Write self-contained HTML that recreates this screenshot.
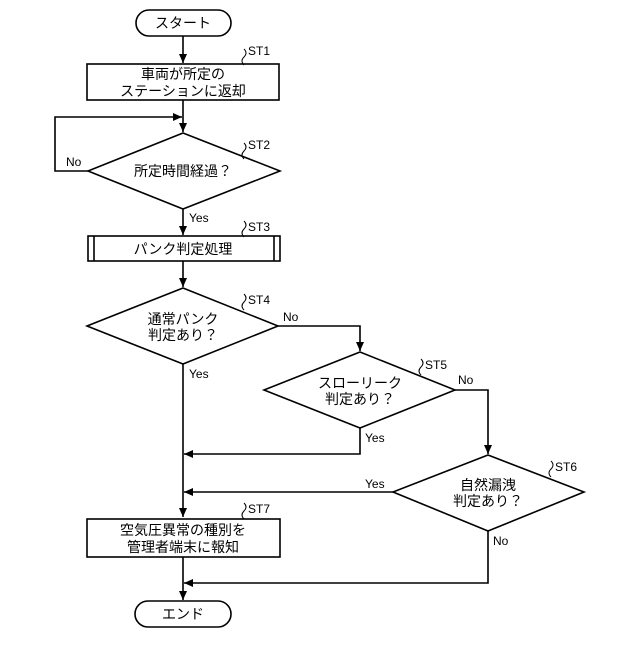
<!DOCTYPE html>
<html><head><meta charset="utf-8"><style>
html,body{margin:0;padding:0;background:#fff}
svg text{font-family:"Liberation Sans","Noto Sans CJK JP",sans-serif;fill:#000}
.t{font-size:14px;text-anchor:middle}
.l{font-size:12px}
</style></head><body>
<svg width="640" height="640" viewBox="0 0 640 640" xmlns="http://www.w3.org/2000/svg">
<defs><marker id="a" markerWidth="10" markerHeight="10" refX="9" refY="5" orient="auto" markerUnits="userSpaceOnUse"><path d="M0,1 L9,5 L0,9 z" fill="#000"/></marker></defs>
<g stroke="#000" stroke-width="1.6" fill="none">
<rect x="136" y="10" width="95" height="26" rx="13" fill="#fff"/>
<line x1="183" y1="36" x2="183" y2="63" marker-end="url(#a)"/>
<rect x="87" y="64" width="192" height="36" fill="#fff"/>
<line x1="183" y1="100" x2="183" y2="132" marker-end="url(#a)"/>
<polyline points="88,171 55,171 55,117 182,117" marker-end="url(#a)"/>
<polygon points="183,133 280,171 183,209 88,171" fill="#fff"/>
<line x1="183" y1="209" x2="183" y2="235" marker-end="url(#a)"/>
<rect x="88" y="236" width="192" height="25" fill="#fff"/>
<line x1="94" y1="236" x2="94" y2="261"/><line x1="274" y1="236" x2="274" y2="261"/>
<line x1="183" y1="261" x2="183" y2="287" marker-end="url(#a)"/>
<polygon points="183,288 278,326 183,364 87,326" fill="#fff"/>
<polyline points="278,326 360,326 360,351" marker-end="url(#a)"/>
<polygon points="360,352 455,390 360,428 264,390" fill="#fff"/>
<polyline points="455,390 488,390 488,454" marker-end="url(#a)"/>
<polyline points="360,428 360,454 184,454" marker-end="url(#a)"/>
<polygon points="488,455 584,492 488,531 393,492" fill="#fff"/>
<line x1="393" y1="492" x2="184" y2="492" marker-end="url(#a)"/>
<line x1="183" y1="364" x2="183" y2="517" marker-end="url(#a)"/>
<rect x="87" y="519" width="193" height="38" fill="#fff"/>
<polyline points="488,531 488,583 184,583" marker-end="url(#a)"/>
<line x1="183" y1="557" x2="183" y2="600" marker-end="url(#a)"/>
<rect x="135" y="601" width="96" height="26" rx="13" fill="#fff"/>
<g stroke-width="1">
<path d="M244,65 q-4,-4 0,-8 q4,-4 0,-8"/>
<path d="M244,159 q-4,-4 0,-8 q4,-4 0,-8"/>
<path d="M244,237 q-4,-4 0,-8 q4,-4 0,-8"/>
<path d="M244,310 q-4,-4 0,-8 q4,-4 0,-8"/>
<path d="M421,375 q-4,-4 0,-8 q4,-4 0,-8"/>
<path d="M551,477 q-4,-4 0,-8 q4,-4 0,-8"/>
<path d="M244,519 q-4,-4 0,-8 q4,-4 0,-8"/>
</g>
</g>
<text class="t" x="183" y="28">スタート</text>
<text class="t" x="183" y="79">車両が所定の</text>
<text class="t" x="183" y="96">ステーションに返却</text>
<text class="t" x="183" y="176">所定時間経過？</text>
<text class="t" x="183" y="254">パンク判定処理</text>
<text class="t" x="183" y="324">通常パンク</text>
<text class="t" x="183" y="340">判定あり？</text>
<text class="t" x="360" y="388">スローリーク</text>
<text class="t" x="360" y="404">判定あり？</text>
<text class="t" x="488" y="490">自然漏洩</text>
<text class="t" x="488" y="506">判定あり？</text>
<text class="t" x="183" y="535">空気圧異常の種別を</text>
<text class="t" x="183" y="552">管理者端末に報知</text>
<text class="t" x="183" y="619">エンド</text>
<text class="l" x="248" y="55">ST1</text>
<text class="l" x="248" y="149">ST2</text>
<text class="l" x="248" y="231">ST3</text>
<text class="l" x="248" y="304">ST4</text>
<text class="l" x="425" y="369">ST5</text>
<text class="l" x="555" y="471">ST6</text>
<text class="l" x="248" y="513">ST7</text>
<text class="l" x="66" y="166">No</text>
<text class="l" x="189" y="222">Yes</text>
<text class="l" x="283" y="321">No</text>
<text class="l" x="189" y="378">Yes</text>
<text class="l" x="458" y="384">No</text>
<text class="l" x="365" y="442">Yes</text>
<text class="l" x="365" y="488">Yes</text>
<text class="l" x="493" y="545">No</text>
</svg>
</body></html>
